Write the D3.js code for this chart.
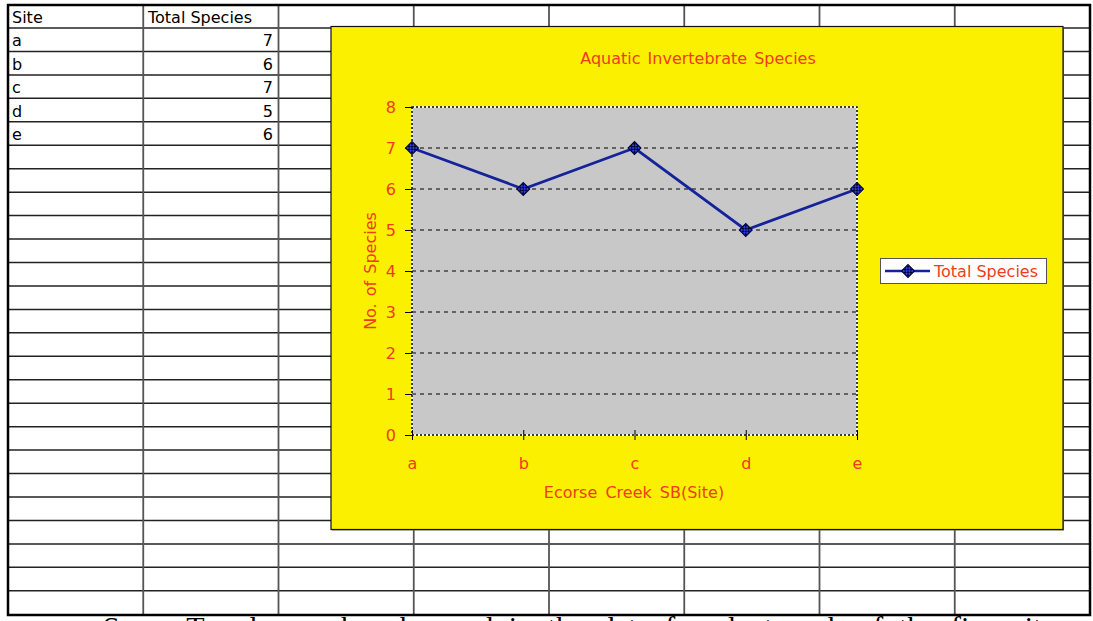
<!DOCTYPE html>
<html>
<head>
<meta charset="utf-8">
<script src="https://cdn.jsdelivr.net/npm/d3@7"></script>
<style>
  body { margin: 0; background: #fff; }
  svg { display: block; }
</style>
</head>
<body>
<div id="container"></div>
<script>
/* DATA */
const sites = ["a", "b", "c", "d", "e"]
const totalSpecies = [7, 6, 7, 5, 6]
const yTicks = [0, 1, 2, 3, 4, 5, 6, 7, 8]
const headers = ["Site", "Total Species"]

/* CONSTANTS */
const width = 1093, height = 621
const red = "#f03c1a"
const font = "'DejaVu Sans', Verdana, sans-serif"

const svg = d3.select("#container")
  .append("svg")
  .attr("width", width)
  .attr("height", height)
  .style("background", "#fff")

// spreadsheet grid
const sheet = { left: 8, top: 5, right: 1090, bottom: 615 }
const colW = (sheet.right - sheet.left) / 8
const rowH = 23.45
const colX = d3.range(1, 8).map(i => sheet.left + i * colW)
const rowY = d3.range(0, 25).map(i => 28 + i * rowH)

const grid = svg.append("g")
grid.selectAll(".hline")
  .data(rowY)
  .join("line")
  .attr("x1", sheet.left).attr("x2", sheet.right)
  .attr("y1", d => d).attr("y2", d => d)
  .attr("stroke", "#222").attr("stroke-width", 1.5)
grid.selectAll(".vline")
  .data(colX)
  .join("line")
  .attr("x1", d => d).attr("x2", d => d)
  .attr("y1", sheet.top).attr("y2", sheet.bottom)
  .attr("stroke", "#555").attr("stroke-width", 1.8)
grid.append("rect")
  .attr("x", sheet.left).attr("y", sheet.top)
  .attr("width", sheet.right - sheet.left)
  .attr("height", sheet.bottom - sheet.top)
  .attr("fill", "none").attr("stroke", "#000").attr("stroke-width", 2.5)

// cell text
const cells = svg.append("g")
  .style("font-family", font).style("font-size", "16px").attr("fill", "#000")
cells.append("text").attr("x", 12).attr("y", 23).text(headers[0])
cells.append("text").attr("x", 148).attr("y", 23).text(headers[1])
cells.selectAll(".site")
  .data(sites)
  .join("text")
  .attr("x", 12).attr("y", (d, i) => 23 + (i + 1) * rowH)
  .text(d => d)
cells.selectAll(".val")
  .data(totalSpecies)
  .join("text")
  .attr("x", 273).attr("y", (d, i) => 23 + (i + 1) * rowH)
  .attr("text-anchor", "end")
  .text(d => d)

// chart frame
svg.append("rect")
  .attr("x", 332).attr("y", 27.5).attr("width", 732).attr("height", 503)
  .attr("fill", "#777")
svg.append("rect")
  .attr("x", 331).attr("y", 26.5).attr("width", 732).attr("height", 503)
  .attr("fill", "#fbf000").attr("stroke", "#111").attr("stroke-width", 1.2)

// checker pattern for markers
const defs = svg.append("defs")
const pat = defs.append("pattern")
  .attr("id", "checker").attr("patternUnits", "userSpaceOnUse")
  .attr("width", 4).attr("height", 4)
pat.append("rect").attr("width", 4).attr("height", 4).attr("fill", "#2a3ee0")
pat.append("rect").attr("width", 2).attr("height", 2).attr("fill", "#000030")
pat.append("rect").attr("x", 2).attr("y", 2).attr("width", 2).attr("height", 2).attr("fill", "#000030")

// scales
const x = d3.scalePoint().domain(sites).range([412, 857])
const y = d3.scaleLinear().domain([0, 8]).range([435, 107])

// plot area
svg.append("rect")
  .attr("x", x.range()[0]).attr("y", y(8))
  .attr("width", x.range()[1] - x.range()[0]).attr("height", y(0) - y(8))
  .attr("fill", "#c8c8c8").attr("stroke", "#fff").attr("stroke-width", 1.5)
svg.append("rect")
  .attr("x", x.range()[0]).attr("y", y(8))
  .attr("width", x.range()[1] - x.range()[0]).attr("height", y(0) - y(8))
  .attr("fill", "none").attr("stroke", "#000").attr("stroke-width", 1.5)
  .attr("stroke-dasharray", "2,2")

// gridlines
svg.append("g").selectAll("line")
  .data(yTicks.filter(d => d > 0 && d < 8))
  .join("line")
  .attr("x1", x.range()[0]).attr("x2", x.range()[1])
  .attr("y1", d => y(d)).attr("y2", d => y(d))
  .attr("stroke", "#000").attr("stroke-width", 1)
  .attr("stroke-dasharray", "4,4")

// axes
const yAxis = svg.append("g")
  .attr("transform", `translate(${x.range()[0]},0)`)
  .call(d3.axisLeft(y).tickValues(yTicks).tickSize(7).tickPadding(9).tickFormat(d3.format("d")))
yAxis.select(".domain").remove()
yAxis.selectAll("line").attr("stroke", "#000")
yAxis.selectAll("text")
  .attr("fill", red).style("font-family", font).style("font-size", "16px")

const xAxis = svg.append("g")
  .attr("transform", `translate(0,${y(0)})`)
  .call(d3.axisBottom(x).tickSize(5).tickPadding(18))
xAxis.select(".domain").remove()
xAxis.selectAll("line").attr("stroke", "#000").attr("y1", -5)
xAxis.selectAll("text")
  .attr("fill", red).style("font-family", font).style("font-size", "16px")

// titles
svg.append("text")
  .attr("x", 698).attr("y", 64)
  .attr("text-anchor", "middle").attr("fill", red)
  .style("font-family", font).style("font-size", "16px").style("word-spacing", "2px")
  .text("Aquatic Invertebrate Species")
svg.append("text")
  .attr("x", 634).attr("y", 498)
  .attr("text-anchor", "middle").attr("fill", red)
  .style("font-family", font).style("font-size", "16px").style("word-spacing", "3px")
  .text("Ecorse Creek SB(Site)")
svg.append("text")
  .attr("transform", "translate(376,271) rotate(-90)")
  .attr("text-anchor", "middle").attr("fill", red)
  .style("font-family", font).style("font-size", "16px").style("word-spacing", "2px")
  .text("No. of Species")

// series
const data = sites.map((s, i) => ({ site: s, value: totalSpecies[i] }))
const line = d3.line().x(d => x(d.site)).y(d => y(d.value))
svg.append("path")
  .datum(data)
  .attr("d", line)
  .attr("fill", "none").attr("stroke", "#14239a").attr("stroke-width", 2.8)

const diamond = d3.symbol().type(d3.symbolSquare).size(85)
svg.selectAll(".marker")
  .data(data)
  .join("path")
  .attr("class", "marker")
  .attr("d", diamond)
  .attr("transform", d => `translate(${x(d.site)},${y(d.value)}) rotate(45)`)
  .attr("fill", "url(#checker)").attr("stroke", "#000030").attr("stroke-width", 1)

// legend
const legend = svg.append("g")
legend.append("rect")
  .attr("x", 880.5).attr("y", 258.5).attr("width", 166).attr("height", 25)
  .attr("fill", "#fff").attr("stroke", "#555").attr("stroke-width", 1)
legend.append("line")
  .attr("x1", 885).attr("x2", 930).attr("y1", 271).attr("y2", 271)
  .attr("stroke", "#14239a").attr("stroke-width", 2.5)
legend.append("path")
  .attr("d", diamond)
  .attr("transform", "translate(908,271) rotate(45)")
  .attr("fill", "url(#checker)").attr("stroke", "#000030").attr("stroke-width", 1)
legend.append("text")
  .attr("x", 934).attr("y", 277)
  .attr("fill", red)
  .style("font-family", font).style("font-size", "16px")
  .text("Total Species")

// document text below the sheet (only its top shows, as in the source page)
svg.append("text")
  .attr("x", 103).attr("y", 637)
  .attr("fill", "#000")
  .style("font-family", "'Liberation Serif', 'Times New Roman', serif")
  .style("font-size", "30px").style("word-spacing", "8px")
  .text("Some Trends can be observed in the data found at each of the five sites and the fields")
</script>
</body>
</html>
